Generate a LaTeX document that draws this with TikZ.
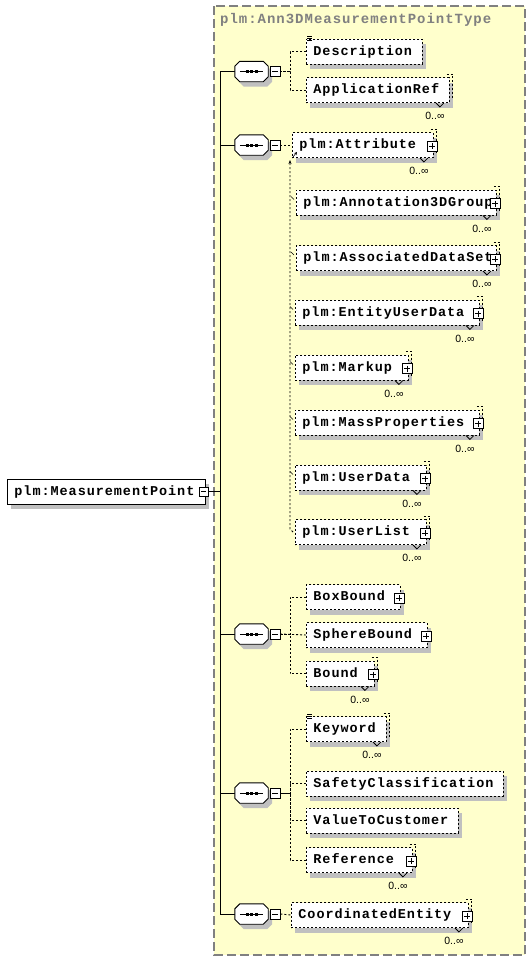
\documentclass[tikz,border=0pt]{standalone}
\usepackage{fontspec}
\newfontfamily\elfont[LetterSpace=7]{Liberation Mono}
\newfontfamily\multfont{Liberation Sans}
\usetikzlibrary{shadows,arrows.meta}

\definecolor{schemayellow}{HTML}{FFFFCC}
\definecolor{shadowgray}{HTML}{C0C0C0}
\definecolor{titlegray}{HTML}{808080}

\newcommand{\eltext}[2]{\makebox[#1][l]{#2}}

\tikzset{
  el/.style={draw, line width=0.9pt, dash pattern=on 2pt off 2pt, fill=white, anchor=west,
    inner xsep=7pt, inner ysep=0pt, minimum height=25pt, text height=9.5pt, text depth=2pt,
    font=\elfont\bfseries\fontsize{13.5}{15}\selectfont,
    drop shadow={shadow xshift=4pt, shadow yshift=-5pt, fill=shadowgray, opacity=1}},
  rootbox/.style={el, solid},
  seq/.style={rectangle, minimum width=33pt, minimum height=20pt, inner sep=0pt},
  minusbox/.style={draw, solid, fill=white, line width=0.8pt, minimum size=10pt, inner sep=0pt,
    path picture={\draw[line width=0.8pt] ([xshift=2pt]path picture bounding box.west) -- ([xshift=-2pt]path picture bounding box.east);}},
  plusbox/.style={draw, solid, fill=white, line width=0.8pt, minimum size=10pt, inner sep=0pt,
    path picture={\draw[line width=0.8pt] ([xshift=2pt]path picture bounding box.west) -- ([xshift=-2pt]path picture bounding box.east)
      ([yshift=-2pt]path picture bounding box.north) -- ([yshift=2pt]path picture bounding box.south);}},
  link/.style={line width=0.9pt, dash pattern=on 2pt off 2pt},
  mult/.style={font=\multfont\fontsize{10.5}{12}\selectfont, inner sep=0pt}
}

\begin{document}
\begin{tikzpicture}[x=1pt, y=-1pt]
\useasboundingbox (0,0) rectangle (530,961);

% frame of the complex type
\draw[titlegray, line width=1.2pt, dash pattern=on 9pt off 4pt, fill=schemayellow] (214,6) rectangle (525,955);
\node[anchor=west, inner sep=0pt, text=titlegray, font=\elfont\bfseries\fontsize{14}{16}\selectfont] (title) at (220,20) {plm:Ann3DMeasurementPointType};

% root element
\node[rootbox] (mp) at (7,491.5) {\eltext{184pt}{plm:MeasurementPoint}};
\node[minusbox, minimum size=9pt] (mpm) at (203.5,491.5) {};
\coordinate (trunk) at (220,491.5);
\draw[line width=0.9pt] (mpm.east) -- (trunk);

% sequences
\node[seq] (s1) at (251.5,71.5) {};
\node[seq] (s2) at (251.5,145) {};
\node[seq] (s3) at (251.5,634) {};
\node[seq] (s4) at (251.5,793) {};
\node[seq] (s5) at (251.5,914) {};

\foreach \s in {s1,s2,s3,s4,s5} {
  \draw[line width=0.9pt] (\s.west) -| (trunk);
  \fill[shadowgray, transform canvas={shift={(4pt,-5pt)}}] ([xshift=5pt]\s.north west) -- ([xshift=-5pt]\s.north east)
    -- ([yshift=-5pt]\s.north east) -- ([yshift=5pt]\s.south east) -- ([xshift=-5pt]\s.south east)
    -- ([xshift=5pt]\s.south west) -- ([yshift=5pt]\s.south west) -- ([yshift=-5pt]\s.north west) -- cycle;
  \draw[line width=0.9pt, fill=white] ([xshift=5pt]\s.north west) -- ([xshift=-5pt]\s.north east)
    -- ([yshift=-5pt]\s.north east) -- ([yshift=5pt]\s.south east) -- ([xshift=-5pt]\s.south east)
    -- ([xshift=5pt]\s.south west) -- ([yshift=5pt]\s.south west) -- ([yshift=-5pt]\s.north west) -- cycle;
  \draw[line width=0.8pt] ([xshift=5pt]\s.west) -- ([xshift=-5pt]\s.east);
  \foreach \dx in {-6,-1.5,3}
    \fill ([shift={(\dx pt,-1.5pt)}]\s.center) rectangle ++(3,-3);
}
\node[minusbox] (s1m) at (275,71.5) {};
\node[minusbox] (s2m) at (275,145) {};
\node[minusbox] (s3m) at (275,634) {};
\node[minusbox] (s4m) at (275,793) {};
\node[minusbox] (s5m) at (275,914) {};

% first sequence
\node[el] (desc) at (306,51.5) {\eltext{102pt}{Description}};
\node[el] (appref) at (306,90) {\eltext{129pt}{ApplicationRef}};

% second sequence: substitution group
\node[el] (att) at (292,145) {\eltext{127pt}{plm:Attribute}};
\node[el] (ann) at (296,202.5) {\eltext{186pt}{plm:Annotation3DGroup}};
\node[el] (ads) at (296,258) {\eltext{186pt}{plm:AssociatedDataSet}};
\node[el] (eud) at (295,312.5) {\eltext{170pt}{plm:EntityUserData}};
\node[el] (mkp) at (295,367.5) {\eltext{99pt}{plm:Markup}};
\node[el] (mass) at (295,422.5) {\eltext{170pt}{plm:MassProperties}};
\node[el] (udata) at (295,477.5) {\eltext{117pt}{plm:UserData}};
\node[el] (ulist) at (295,532) {\eltext{117pt}{plm:UserList}};

% third sequence
\node[el] (boxb) at (306,597) {\eltext{80pt}{BoxBound}};
\node[el] (sphb) at (306,635) {\eltext{107pt}{SphereBound}};
\node[el] (bound) at (306,673.5) {\eltext{54pt}{Bound}};

% fourth sequence
\node[el] (kw) at (306,729) {\eltext{66pt}{Keyword}};
\node[el] (safety) at (306,783.5) {\eltext{183pt}{SafetyClassification}};
\node[el] (value) at (306,820.5) {\eltext{138pt}{ValueToCustomer}};
\node[el] (ref) at (306,860) {\eltext{92pt}{Reference}};

% fifth sequence
\node[el] (coord) at (291,915) {\eltext{163pt}{CoordinatedEntity}};

% occurrence marks
\foreach \n in {appref,att,ann,ads,eud,mkp,mass,udata,ulist,bound,kw,ref,coord} {
  \draw[link] ([xshift=-3pt, yshift=3pt]\n.north east) -- ++(6,0) -- ([xshift=3pt, yshift=3pt]\n.south east);
  \draw[line width=0.8pt] ([xshift=-14pt]\n.south east) -- ++(4,4) -- ++(4,-4);
  \node[mult] (\n o) at ([xshift=-15pt, yshift=-13pt]\n.south east) {0..∞};
}

% expand buttons
\foreach \n in {att,ann,ads,eud,mkp,mass,udata,ulist,boxb,sphb,bound,ref,coord}
  \node[plusbox] (\n p) at ([xshift=-2pt, yshift=-1pt]\n.east) {};

% simple content marks
\foreach \n in {desc,kw}
  \foreach \dy in {2,0,-2}
    \draw[line width=0.6pt] ([shift={(1pt,\dy pt)}]\n.north west) -- ++(5,0);

% connectors
\draw[link] (desc.west) -- ++(-16,0) |- (s1m.east);
\draw[link] (appref.west) -- ++(-16,0) |- (s1m.east);
\draw[link] (s2m.east) -- (att.west);
\coordinate (subtop) at (290,160);
\draw[link, -{Stealth[length=4pt, width=3pt]}] ([xshift=-2pt]ulist.west) -- ++(-3,-3) -- (subtop);
\foreach \n in {ann,ads,eud,mkp,mass,udata}
  \draw[line width=0.6pt] ([xshift=-2pt, yshift=3pt]\n.west) -- ++(-3,-3);
\draw[line width=0.6pt, -{Stealth[length=3pt, width=3pt]}] ([shift={(1pt,1pt)}]att.south west) -- ++(4,-5);
\draw[link] (boxb.west) -- ++(-16,0) |- (s3m.east);
\draw[link] (sphb.west) -- (s3m.east);
\draw[link] (bound.west) -- ++(-16,0) |- (s3m.east);
\draw[link] (kw.west) -- ++(-16,0) |- (s4m.east);
\draw[link] (safety.west) -- ++(-16,0) |- (s4m.east);
\draw[link] (value.west) -- ++(-16,0) |- (s4m.east);
\draw[link] (ref.west) -- ++(-16,0) |- (s4m.east);
\draw[link] (s5m.east) -- (coord.west);
\end{tikzpicture}
\end{document}
